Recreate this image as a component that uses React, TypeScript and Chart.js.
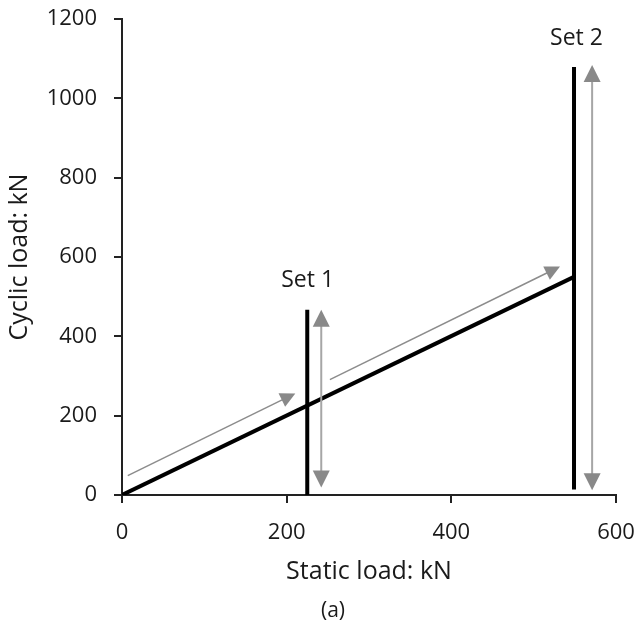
import React, { useEffect, useRef } from "react";
import { Chart, registerables } from "chart.js";

Chart.register(...registerables);

// Main relationship line (static vs cyclic load)
const diagX = [0, 549];
const diagY = [0, 550];
// Load set verticals
const set1X = [225, 225];
const set1Y = [0, 467];
const set2X = [549, 549];
const set2Y = [14, 1079];

// Grey arrows (tail -> head); double = heads at both ends
const arrowFromX = [7, 252.5, 242, 571];
const arrowFromY = [49, 291, 19, 12];
const arrowToX = [210.5, 532, 242, 571];
const arrowToY = [256, 576, 467, 1084];
const arrowDouble = [false, false, true, true];

// Set labels
const labelText = ["Set 1", "Set 2"];
const labelX = [225.5, 552];
const labelY = [540, 1151];

const xTicks = [0, 200, 400, 600];
const yTicks = [0, 200, 400, 600, 800, 1000, 1200];

const FONT = "'Open Sans', 'Noto Sans', sans-serif";
const AXIS = "#222222";
const TEXT = "#1a1a1a";

const toPts = (xs: number[], ys: number[]) => xs.map((x, i) => ({ x, y: ys[i] }));

const arrowPlugin = {
  id: "arrowsAndLabels",
  afterDatasetsDraw(chart: any) {
    const { ctx, scales } = chart;
    const xs = scales.x;
    const ys = scales.y;
    ctx.save();
    const head = (tx: number, ty: number, dx: number, dy: number, L: number, W: number, color: string) => {
      const len = Math.hypot(dx, dy);
      const ux = dx / len, uy = dy / len;
      const bx = tx - ux * L, by = ty - uy * L;
      const nx = -uy, ny = ux;
      ctx.beginPath();
      ctx.moveTo(tx, ty);
      ctx.lineTo(bx + nx * W / 2, by + ny * W / 2);
      ctx.lineTo(bx - nx * W / 2, by - ny * W / 2);
      ctx.closePath();
      ctx.fillStyle = color;
      ctx.fill();
    };
    for (let i = 0; i < arrowFromX.length; i++) {
      const x0 = xs.getPixelForValue(arrowFromX[i]);
      const y0 = ys.getPixelForValue(arrowFromY[i]);
      const x1 = xs.getPixelForValue(arrowToX[i]);
      const y1 = ys.getPixelForValue(arrowToY[i]);
      const dx = x1 - x0, dy = y1 - y0;
      const len = Math.hypot(dx, dy);
      const ux = dx / len, uy = dy / len;
      const dbl = arrowDouble[i];
      const L = dbl ? 17 : 15;
      const W = dbl ? 17 : 15;
      const sx = dbl ? x0 + ux * (L - 2) : x0;
      const sy = dbl ? y0 + uy * (L - 2) : y0;
      const ex = x1 - ux * (L - 2);
      const ey = y1 - uy * (L - 2);
      ctx.beginPath();
      ctx.moveTo(sx, sy);
      ctx.lineTo(ex, ey);
      ctx.strokeStyle = dbl ? "#a6a6a6" : "#8c8c8c";
      ctx.lineWidth = dbl ? 2 : 1.5;
      ctx.stroke();
      head(x1, y1, dx, dy, L, W, "#898989");
      if (dbl) head(x0, y0, -dx, -dy, L, W, "#898989");
    }
    ctx.font = `23px ${FONT}`;
    ctx.fillStyle = TEXT;
    ctx.textAlign = "center";
    ctx.textBaseline = "middle";
    for (let i = 0; i < labelText.length; i++) {
      ctx.fillText(labelText[i], xs.getPixelForValue(labelX[i]), ys.getPixelForValue(labelY[i]));
    }
    ctx.font = `21px ${FONT}`;
    ctx.fillText("(a)", 333, 611);
    ctx.restore();
  },
};

export default function App() {
  const ref = useRef<HTMLCanvasElement>(null);
  useEffect(() => {
    if (!ref.current) return;
    const lineDs = (label: string, data: any) => ({
      label,
      data,
      showLine: true,
      borderColor: "#000000",
      borderWidth: 4,
      pointRadius: 0,
      fill: false,
      borderCapStyle: "butt" as const,
    });
    const chart = new Chart(ref.current, {
      type: "scatter",
      data: {
        datasets: [
          lineDs("Load path", toPts(diagX, diagY)),
          lineDs("Set 1", toPts(set1X, set1Y)),
          lineDs("Set 2", toPts(set2X, set2Y)),
        ],
      },
      options: {
        responsive: false,
        animation: false,
        layout: { padding: { top: 19, right: 20, bottom: 0, left: 0 } },
        plugins: { legend: { display: false }, tooltip: { enabled: false } },
        scales: {
          x: {
            type: "linear",
            min: 0,
            max: 600,
            afterBuildTicks: (s: any) => {
              s.ticks = xTicks.map((v) => ({ value: v }));
            },
            afterFit: (s: any) => {
              s.height = 131;
              s.paddingLeft = 0;
              s.paddingRight = 0;
            },
            ticks: {
              font: { family: FONT, size: 22 },
              color: TEXT,
              padding: 17,
              callback: (v: any) => String(v),
            },
            grid: { drawOnChartArea: false, drawTicks: true, tickLength: 8, color: AXIS, lineWidth: 2 },
            border: { color: AXIS, width: 2 },
            title: {
              display: true,
              text: "Static load: kN",
              font: { family: FONT, size: 25 },
              color: TEXT,
              padding: { top: 0, bottom: 39 },
            },
          },
          y: {
            type: "linear",
            min: 0,
            max: 1200,
            afterBuildTicks: (s: any) => {
              s.ticks = yTicks.map((v) => ({ value: v }));
            },
            afterFit: (s: any) => {
              s.width = 122;
              s.paddingTop = 0;
              s.paddingBottom = 0;
            },
            ticks: {
              font: { family: FONT, size: 22 },
              color: TEXT,
              padding: 17,
              callback: (v: any) => String(v),
            },
            grid: { drawOnChartArea: false, drawTicks: true, tickLength: 8, color: AXIS, lineWidth: 2 },
            border: { color: AXIS, width: 2 },
            title: {
              display: true,
              text: "Cyclic load: kN",
              font: { family: FONT, size: 25 },
              color: TEXT,
              padding: { top: 5, bottom: 0 },
            },
          },
        },
      },
      plugins: [arrowPlugin],
    });
    return () => chart.destroy();
  }, []);
  return (
    <div style={{ position: "fixed", left: 0, top: 0, width: 636, height: 626, background: "#fff" }}>
      <canvas ref={ref} width={636} height={626} />
    </div>
  );
}
